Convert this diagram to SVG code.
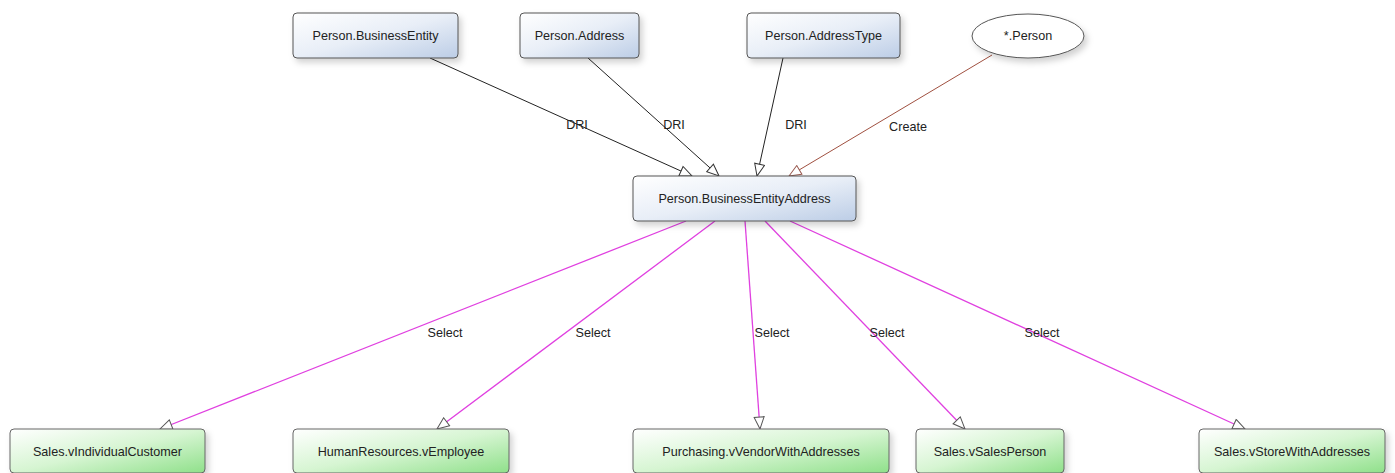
<svg xmlns="http://www.w3.org/2000/svg" width="1395" height="473" viewBox="0 0 1395 473">
<defs>
<linearGradient id="gb" x1="0" y1="0" x2="1" y2="1">
<stop offset="0" stop-color="#ffffff"/><stop offset="0.5" stop-color="#e8eef7"/><stop offset="1" stop-color="#bccde6"/>
</linearGradient>
<linearGradient id="gg" x1="0" y1="0" x2="1" y2="1">
<stop offset="0" stop-color="#ffffff"/><stop offset="0.5" stop-color="#d6f5d2"/><stop offset="1" stop-color="#8fe08a"/>
</linearGradient>
<filter id="sh" x="-10%" y="-20%" width="125%" height="160%">
<feDropShadow dx="3" dy="4" stdDeviation="3" flood-color="#000" flood-opacity="0.18"/>
</filter>
<marker id="ad" viewBox="0 0 14 12" refX="13" refY="6" markerWidth="14" markerHeight="12" markerUnits="userSpaceOnUse" orient="auto">
<path d="M1,1 L13,6 L1,11 Z" fill="#fff" stroke="#333" stroke-width="1"/>
</marker>
<marker id="ac" viewBox="0 0 14 12" refX="13" refY="6" markerWidth="14" markerHeight="12" markerUnits="userSpaceOnUse" orient="auto">
<path d="M1,1 L13,6 L1,11 Z" fill="#fff" stroke="#9a5a50" stroke-width="1"/>
</marker>
<marker id="am" viewBox="0 0 14 12" refX="13" refY="6" markerWidth="14" markerHeight="12" markerUnits="userSpaceOnUse" orient="auto">
<path d="M1,1 L13,6 L1,11 Z" fill="#fff" stroke="#555" stroke-width="1"/>
</marker>
</defs>
<style>
text{font-family:"Liberation Sans",Arial,sans-serif;font-size:12.6px;fill:#222;}
.t{text-anchor:middle;}
.nb{fill:url(#gb);stroke:#555;stroke-width:1;filter:url(#sh);}
.ng{fill:url(#gg);stroke:#666;stroke-width:1;filter:url(#sh);}
.ne{fill:#fff;stroke:#555;stroke-width:1;filter:url(#sh);}
.dri{stroke:#222;stroke-width:1;fill:none;marker-end:url(#ad);}
.cre{stroke:#a05040;stroke-width:1;fill:none;marker-end:url(#ac);}
.sel{stroke:#e040e0;stroke-width:1.3;fill:none;marker-end:url(#am);}
</style>
<rect width="1395" height="473" fill="#fff"/>
<g id="connectors">
<line class="dri" x1="430" y1="58" x2="692" y2="176"/>
<line class="dri" x1="588" y1="58" x2="719" y2="176"/>
<line class="dri" x1="783" y1="58" x2="757" y2="176"/>
<line class="cre" x1="992" y1="55" x2="789" y2="176"/>
<line class="sel" x1="686" y1="221" x2="160" y2="429"/>
<line class="sel" x1="715" y1="221" x2="437" y2="429"/>
<line class="sel" x1="745" y1="221" x2="760" y2="429"/>
<line class="sel" x1="765" y1="221" x2="965" y2="429"/>
<line class="sel" x1="790" y1="221" x2="1245" y2="429"/>
<text class="t" x="577" y="129">DRI</text>
<text class="t" x="674" y="129">DRI</text>
<text class="t" x="796" y="129">DRI</text>
<text class="t" x="908" y="131">Create</text>
<text class="t" x="445" y="337">Select</text>
<text class="t" x="593" y="337">Select</text>
<text class="t" x="772" y="337">Select</text>
<text class="t" x="887" y="337">Select</text>
<text class="t" x="1042" y="337">Select</text>
</g>
<g id="n_businessentity"><rect class="nb" x="293" y="13" width="165" height="45" rx="4"/><text class="t" x="375.5" y="40">Person.BusinessEntity</text></g>
<g id="n_address"><rect class="nb" x="520" y="13" width="119" height="45" rx="4"/><text class="t" x="579.5" y="40">Person.Address</text></g>
<g id="n_addresstype"><rect class="nb" x="747" y="13" width="153" height="45" rx="4"/><text class="t" x="823.5" y="40">Person.AddressType</text></g>
<g id="n_person"><ellipse class="ne" cx="1028" cy="36" rx="56" ry="22"/><text class="t" x="1028" y="40">*.Person</text></g>
<g id="n_bea"><rect class="nb" x="633" y="176" width="223" height="45" rx="4"/><text class="t" x="744.5" y="203">Person.BusinessEntityAddress</text></g>
<g id="n_indcust"><rect class="ng" x="10" y="429" width="195" height="44" rx="4"/><text class="t" x="107.5" y="456">Sales.vIndividualCustomer</text></g>
<g id="n_employee"><rect class="ng" x="293" y="429" width="216" height="44" rx="4"/><text class="t" x="401" y="456">HumanResources.vEmployee</text></g>
<g id="n_vendor"><rect class="ng" x="633" y="429" width="256" height="44" rx="4"/><text class="t" x="761" y="456">Purchasing.vVendorWithAddresses</text></g>
<g id="n_salesperson"><rect class="ng" x="916" y="429" width="148" height="44" rx="4"/><text class="t" x="990" y="456">Sales.vSalesPerson</text></g>
<g id="n_store"><rect class="ng" x="1199" y="429" width="186" height="44" rx="4"/><text class="t" x="1292" y="456">Sales.vStoreWithAddresses</text></g>
</svg>
